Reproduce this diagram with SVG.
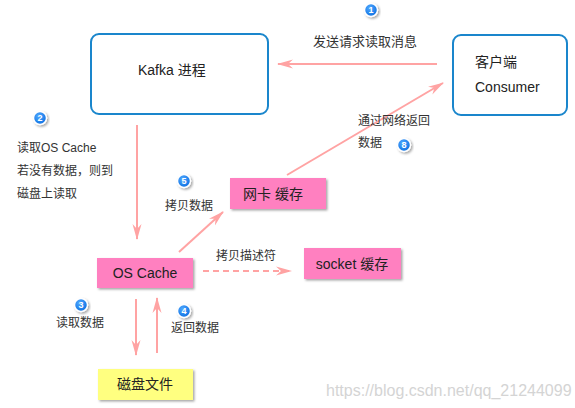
<svg xmlns="http://www.w3.org/2000/svg" width="575" height="408" viewBox="0 0 575 408">
<defs>
<marker id="ah" viewBox="0 0 16 10" refX="15" refY="5" markerWidth="16" markerHeight="10" markerUnits="userSpaceOnUse" orient="auto">
<path d="M0,0.5 L16,5 L0,9.5 L5,5 Z" fill="#ffa3a3"/>
</marker>
<filter id="sh" x="-10%" y="-10%" width="130%" height="140%">
<feDropShadow dx="1.5" dy="1.5" stdDeviation="1" flood-color="#000" flood-opacity="0.35"/>
</filter>
<radialGradient id="bg" cx="0.4" cy="0.35" r="0.7">
<stop offset="0" stop-color="#4fa8ff"/>
<stop offset="1" stop-color="#0a6de0"/>
</radialGradient>
</defs>
<style>
text{font-family:"Liberation Sans","Noto Sans CJK SC",sans-serif;fill:#222}
.lbl{font-size:12px;fill:#333}
.node{font-size:14px}
.blue{fill:#fff;stroke:#1a86cc;stroke-width:2}
.pink{fill:#ff80c0;filter:url(#sh)}
.yellow{fill:#ffff80;filter:url(#sh)}
.conn{stroke:#ffa3a3;stroke-width:2;fill:none;marker-end:url(#ah)}
.num circle{fill:url(#bg);stroke:#fff;stroke-width:1.5;filter:url(#sh)}
.num text{fill:#fff;font-size:9px;font-weight:bold;text-anchor:middle}
</style>
<rect width="575" height="408" fill="#fff"/>

<g id="connectors">
<line class="conn" x1="437" y1="64" x2="278" y2="64"/>
<line class="conn" x1="137" y1="125" x2="137" y2="239"/>
<line class="conn" x1="179" y1="252" x2="223" y2="212"/>
<line class="conn" x1="287" y1="175" x2="443" y2="83"/>
<line class="conn" x1="203" y1="271" x2="291" y2="271" stroke-dasharray="6,4"/>
<line class="conn" x1="136" y1="299" x2="136" y2="355"/>
<line class="conn" x1="157" y1="353" x2="157" y2="298"/>
</g>

<g id="kafka">
<rect class="blue" x="91" y="34" width="177" height="80" rx="8"/>
<text class="node" x="138" y="75">Kafka 进程</text>
</g>
<g id="consumer">
<rect class="blue" x="453" y="35" width="114" height="80" rx="8"/>
<text class="node" x="475" y="67">客户端</text>
<text class="node" x="475" y="92">Consumer</text>
</g>
<g id="nic">
<rect class="pink" x="230" y="178" width="96" height="31"/>
<text class="node" x="243" y="199">网卡 缓存</text>
</g>
<g id="oscache">
<rect class="pink" x="97" y="258" width="96" height="30"/>
<text class="node" x="145" y="278" text-anchor="middle">OS Cache</text>
</g>
<g id="socket">
<rect class="pink" x="304" y="248" width="97" height="31"/>
<text class="node" x="352" y="269" text-anchor="middle">socket 缓存</text>
</g>
<g id="disk">
<rect class="yellow" x="98" y="369" width="95" height="31"/>
<text class="node" x="145" y="389" text-anchor="middle">磁盘文件</text>
</g>

<g id="labels">
<text x="313" y="46" style="font-size:13px;fill:#333">发送请求读取消息</text>
<text class="lbl" x="17" y="152">读取OS Cache</text>
<text class="lbl" x="17" y="175">若没有数据，则到</text>
<text class="lbl" x="17" y="198">磁盘上读取</text>
<text class="lbl" x="165" y="210">拷贝数据</text>
<text class="lbl" x="358" y="125">通过网络返回</text>
<text class="lbl" x="358" y="147">数据</text>
<text class="lbl" x="216" y="260">拷贝描述符</text>
<text class="lbl" x="56" y="327">读取数据</text>
<text class="lbl" x="171" y="332">返回数据</text>
</g>

<g id="numbers">
<g class="num"><circle cx="371" cy="10" r="6.5"/><text x="371" y="13.2">1</text></g>
<g class="num"><circle cx="40" cy="118" r="6.5"/><text x="40" y="121.2">2</text></g>
<g class="num"><circle cx="81" cy="305" r="6.5"/><text x="81" y="308.2">3</text></g>
<g class="num"><circle cx="184" cy="311" r="6.5"/><text x="184" y="314.2">4</text></g>
<g class="num"><circle cx="184" cy="181" r="6.5"/><text x="184" y="184.2">5</text></g>
<g class="num"><circle cx="404" cy="145" r="6.5"/><text x="404" y="148.2">8</text></g>
</g>

<text x="326" y="396" style="font-size:16px;fill:#d4d4d4">https://blog.csdn.net/qq_21244099</text>
</svg>
